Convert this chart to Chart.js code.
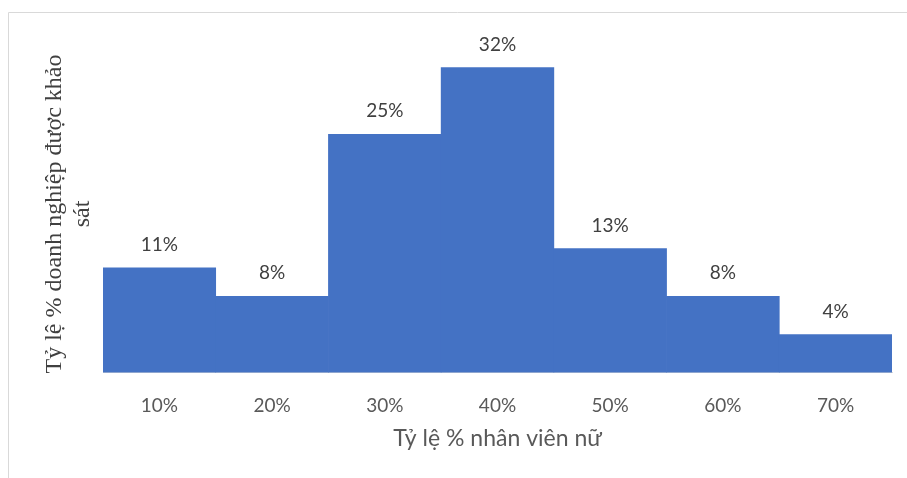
<!DOCTYPE html>
<html><head><meta charset="utf-8">
<script src="https://cdn.jsdelivr.net/npm/chart.js@4"></script>
<style>html,body{margin:0;padding:0;background:#fff;overflow:hidden}canvas{display:block}</style>
</head><body>
<canvas id="c" width="907" height="478"></canvas>
<script>
const categories = ['10%','20%','30%','40%','50%','60%','70%'];
const values = [11, 8, 25, 32, 13, 8, 4];
const xTitle = 'Tỷ lệ % nhân viên nữ';
const yTitleLines = ['Tỷ lệ % doanh nghiệp được khảo', 'sát'];

const framePlugin = {
  id: 'frame',
  beforeDraw(chart) {
    const ctx = chart.ctx;
    ctx.save();
    ctx.strokeStyle = '#d9d9d9';
    ctx.lineWidth = 1;
    ctx.beginPath();
    ctx.moveTo(8.5, 478); ctx.lineTo(8.5, 12.5); ctx.lineTo(907, 12.5);
    ctx.stroke();
    ctx.restore();
  },
  afterDraw(chart) {
    const ctx = chart.ctx;
    ctx.save();
    // y title
    ctx.fillStyle = '#404040';
    ctx.font = '24px "Liberation Serif"';
    ctx.textAlign = 'center';
    ctx.textBaseline = 'middle';
    const cy = 214;
    const xs = [55, 83];
    yTitleLines.forEach((t, i) => {
      ctx.save();
      ctx.translate(xs[i], cy);
      ctx.rotate(-Math.PI / 2);
      ctx.fillText(t, 0, 0);
      ctx.restore();
    });
    // data labels
    ctx.font = '19px Lato';
    ctx.fillStyle = '#404040';
    const meta = chart.getDatasetMeta(0);
    meta.data.forEach((bar, i) => {
      ctx.fillText(values[i] + '%', bar.x, bar.y - 23);
    });
    ctx.restore();
  }
};

new Chart(document.getElementById('c'), {
  type: 'bar',
  data: {
    labels: categories,
    datasets: [{
      data: values,
      backgroundColor: '#4472C4',
      borderWidth: 0,
      barPercentage: 1,
      categoryPercentage: 1
    }]
  },
  options: {
    responsive: false,
    animation: false,
    layout: { padding: { left: 103, right: 15, top: 39, bottom: 26 } },
    plugins: { legend: { display: false }, tooltip: { enabled: false } },
    scales: {
      x: {
        grid: { display: false, drawTicks: false },
        border: { display: true, color: '#d9d9d9', width: 1 },
        ticks: { color: '#595959', font: { family: 'Lato', size: 19 }, padding: 22 },
        title: { display: true, text: xTitle, color: '#595959', font: { family: 'Lato', size: 23 }, padding: { top: -15, bottom: 0 } }
      },
      y: {
        display: false,
        min: 0,
        max: 35
      }
    }
  },
  plugins: [framePlugin]
});
</script>
</body></html>
